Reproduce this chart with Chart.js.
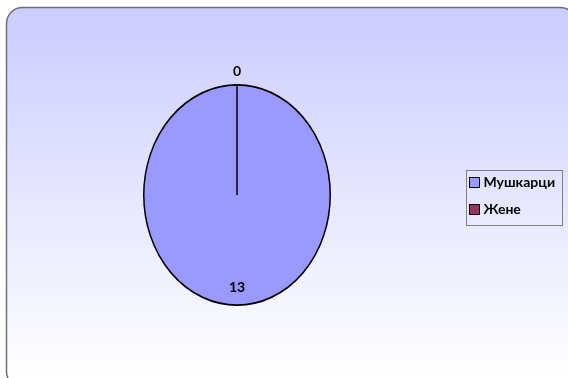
<!DOCTYPE html>
<html>
<head>
<meta charset="utf-8">
<script src="https://cdn.jsdelivr.net/npm/chart.js@4"></script>
<style>
  html, body { margin: 0; padding: 0; background: #fff; }
  #wrap { width: 568px; height: 378px; }
</style>
</head>
<body>
<div id="wrap"><canvas id="pie" width="568" height="378"></canvas></div>
<script>
// data
const labels = ['Мушкарци', 'Жене'];
const values = [13, 0];
const colors = ['#9999ff', '#993366'];

const STRETCH = 1.18; // excel draws the pie as an ellipse
const FONT = 'bold 14px Lato, "Open Sans", sans-serif';

// rounded frame + gradient background
const frameBg = {
  id: 'frameBg',
  beforeDraw(chart) {
    const c = chart.ctx;
    const x = 6.5, y = 7.5, w = 570, h = 380, r = 16;
    const g = c.createLinearGradient(0, y, 0, 378);
    g.addColorStop(0, '#ccccff');
    g.addColorStop(1, '#ffffff');
    c.save();
    c.beginPath();
    c.roundRect(x, y, w, h, r);
    c.fillStyle = g;
    c.fill();
    c.lineWidth = 1.5;
    c.strokeStyle = '#707070';
    c.stroke();
    c.restore();
  }
};

// squash the circle into an ellipse
const stretch = {
  id: 'stretch',
  beforeDatasetsDraw(chart) {
    const a = chart.chartArea;
    const cx = (a.left + a.right) / 2, cy = (a.top + a.bottom) / 2;
    chart.ctx.save();
    chart.ctx.translate(cx, cy);
    chart.ctx.scale(1, STRETCH);
    chart.ctx.translate(-cx, -cy);
  },
  afterDatasetsDraw(chart) {
    chart.ctx.restore();
  }
};

// value labels, placed like excel's
const valueLabels = {
  id: 'valueLabels',
  afterDraw(chart) {
    const c = chart.ctx;
    const meta = chart.getDatasetMeta(0);
    c.save();
    c.font = FONT;
    c.fillStyle = '#000';
    c.textAlign = 'center';
    c.textBaseline = 'middle';
    meta.data.forEach((arc, i) => {
      const p = arc.getProps(['x', 'y', 'startAngle', 'endAngle', 'outerRadius'], true);
      const mid = (p.startAngle + p.endAngle) / 2;
      const k = values[i] === 0 ? 1.12 : 0.84;
      const lx = p.x + Math.cos(mid) * p.outerRadius * k;
      const ly = p.y + Math.sin(mid) * p.outerRadius * k * STRETCH;
      c.fillText(String(values[i]), lx, ly);
    });
    c.restore();
  }
};

// boxed legend on the right
const boxLegend = {
  id: 'boxLegend',
  afterDraw(chart) {
    const c = chart.ctx;
    const bx = 466.5, by = 170.5, bw = 96, bh = 55;
    c.save();
    c.lineWidth = 1;
    c.strokeStyle = '#808080';
    c.strokeRect(bx, by, bw, bh);
    c.font = FONT;
    c.textBaseline = 'middle';
    labels.forEach((lab, i) => {
      const yy = by + 12 + i * 27;
      c.fillStyle = colors[i];
      c.fillRect(bx + 3, yy - 5, 10, 10);
      c.strokeStyle = '#000';
      c.strokeRect(bx + 3, yy - 5, 10, 10);
      c.fillStyle = '#000';
      c.fillText(lab, bx + 17, yy);
    });
    c.restore();
  }
};

new Chart(document.getElementById('pie'), {
  type: 'pie',
  data: {
    labels: labels,
    datasets: [{
      data: values,
      backgroundColor: colors,
      borderColor: '#000',
      borderWidth: 1.5
    }]
  },
  options: {
    responsive: false,
    animation: false,
    layout: { padding: { left: 143, right: 237, top: 101, bottom: 89 } },
    plugins: {
      legend: { display: false },
      tooltip: { enabled: false }
    }
  },
  plugins: [frameBg, stretch, valueLabels, boxLegend]
});
</script>
</body>
</html>
